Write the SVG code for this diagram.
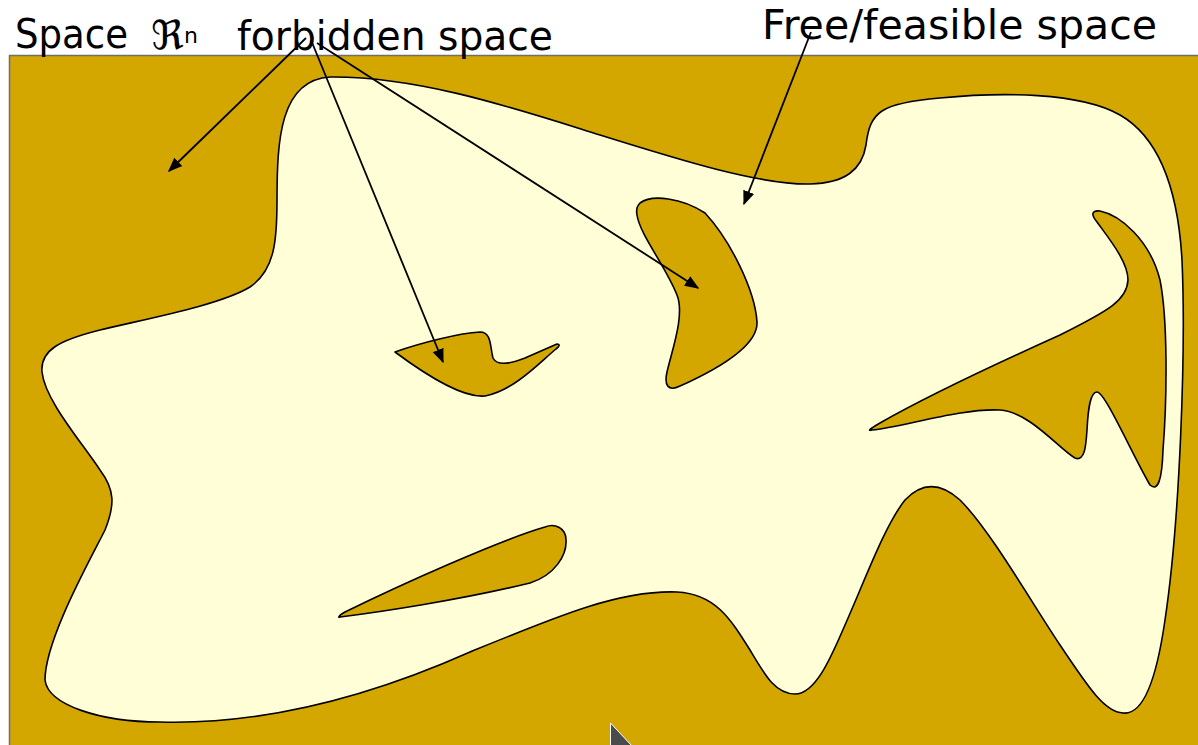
<svg xmlns="http://www.w3.org/2000/svg" width="1198" height="745" viewBox="0 0 1198 745">
<style>
.free{fill:#FFFED6;stroke:#000;stroke-width:1.6;stroke-linejoin:round}
.hole{fill:#D4A600;stroke:#000;stroke-width:1.6;stroke-linejoin:round}
.lbl{font-family:"DejaVu Sans","Noto Sans",sans-serif;font-size:40px;fill:#000}
.arr{stroke:#000;stroke-width:1.8;fill:none;marker-end:url(#ah)}
</style>
<defs>
<marker id="ah" viewBox="0 0 10 10" refX="9" refY="5" markerWidth="8" markerHeight="8" markerUnits="strokeWidth" orient="auto">
<path d="M0,1 L10,5 L0,9 Z" fill="#000"/>
</marker>
</defs>
<rect x="0" y="0" width="1198" height="745" fill="#fff"/>
<g id="space">
<rect x="9.5" y="55.5" width="1200" height="700" fill="#D4A600" stroke="#6e6e6e" stroke-width="1.5"/>
</g>
<g id="free-space">
<path class="free" d="M277,200 C277,140 280,80 330,77 C420,76 520,110 600,135 C680,160 760,185 810,184 C845,183 862,170 866,145 C870,112 880,103 940,98 C1000,92 1080,92 1120,115 C1160,138 1178,190 1182,260 C1186,350 1180,520 1165,620 C1155,690 1140,715 1123,713 C1105,712 1090,690 1060,645 C1030,600 990,530 960,500 C940,482 922,482 905,500 C885,525 865,580 845,625 C830,660 815,694 795,694 C775,694 765,675 750,650 C730,618 715,594 677,592 C620,590 560,615 470,652 C380,692 270,725 160,722 C100,722 48,705 45,680 C45,640 90,560 105,530 C115,505 115,490 100,470 C80,440 45,400 42,372 C40,350 60,340 100,330 C150,318 220,305 250,287 C275,270 277,240 277,200 Z"/>
</g>
<g id="hole-small">
<path class="hole" d="M395,352 C420,343 460,333 480,332 C492,332 490,348 493,358 C497,366 510,364 525,358 L557,344 C560,344 560,346 556,349 C540,362 515,390 485,396 C465,398 430,378 395,352 Z"/>
</g>
<g id="hole-banana">
<path class="hole" d="M640,203 C652,194 682,198 705,213 C730,240 755,290 757,322 C758,345 720,368 680,386 C668,392 664,385 667,372 C672,350 685,315 677,295 C665,265 640,235 637,215 C636,210 637,206 640,203 Z"/>
</g>
<g id="hole-lower">
<path class="hole" d="M340,617 C380,612 460,600 530,583 C555,575 567,555 566,540 C566,528 555,523 545,527 C500,540 400,585 345,612 C338,616 338,618 340,617 Z"/>
</g>
<g id="hole-right">
<path class="hole" d="M872,430 C900,428 960,408 1000,410 C1030,412 1060,450 1075,458 C1085,462 1086,445 1087,430 C1088,410 1090,392 1097,392 C1105,392 1130,450 1150,485 C1158,492 1162,480 1163,450 C1167,400 1168,320 1160,280 C1150,240 1120,215 1100,211 C1090,210 1092,216 1097,222 C1110,240 1128,262 1128,280 C1127,300 1110,310 1060,335 C1000,362 920,400 880,423 C868,430 868,431 872,430 Z"/>
</g>
<g id="labels">
<text class="lbl" x="15" y="48" textLength="113" lengthAdjust="spacingAndGlyphs">Space</text>
<text x="151" y="49" style="font-family:'DejaVu Sans',sans-serif;font-size:40px;fill:#000">ℜ</text>
<text x="184" y="43" style="font-family:'DejaVu Sans',sans-serif;font-size:22px;fill:#000">n</text>
<text class="lbl" x="237" y="50" textLength="316" lengthAdjust="spacingAndGlyphs">forbidden space</text>
<text class="lbl" x="762" y="39" textLength="395" lengthAdjust="spacingAndGlyphs">Free/feasible space</text>
</g>
<g id="connectors">
<line class="arr" x1="306" y1="38" x2="169" y2="171"/>
<line class="arr" x1="311" y1="40" x2="443" y2="362"/>
<line class="arr" x1="317" y1="43" x2="698" y2="288"/>
<line class="arr" x1="811" y1="32" x2="744" y2="204"/>
</g>
<g id="cursor">
<polygon points="610.5,723 610.5,746 632,746" fill="#4b4b4b" stroke="#fff" stroke-width="1"/>
</g>
</svg>
